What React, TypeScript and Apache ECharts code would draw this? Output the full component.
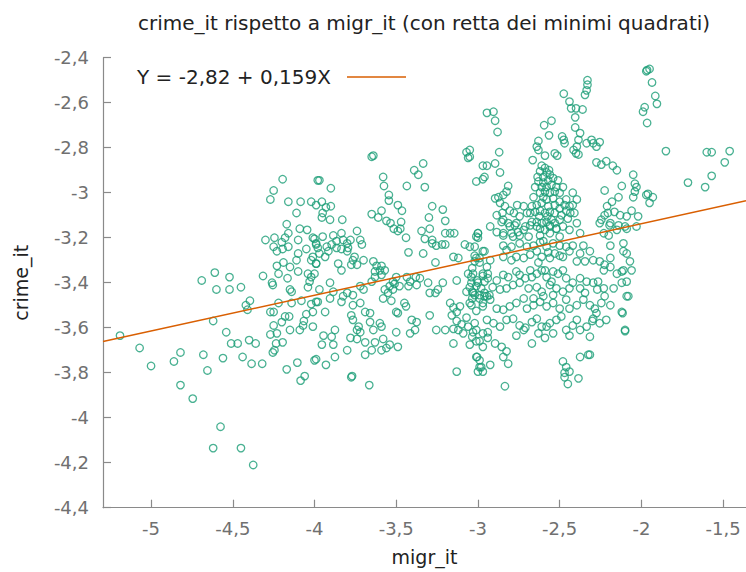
import React, { useEffect, useRef } from "react";
import * as echarts from "echarts";

// Least squares line shown in the key
const INTERCEPT = -2.82;
const SLOPE = 0.159;

// Axis extents
const X_MIN = -5.294;
const X_MAX = -1.36;
const Y_MIN = -4.4;
const Y_MAX = -2.4;
const Y_STEP = 0.2;

const TITLE = "crime_it rispetto a migr_it (con retta dei minimi quadrati)";
const X_NAME = "migr_it";
const Y_NAME = "crime_it";

// [migr_it, crime_it] observations, grouped by area of the plot
const farWestPoints: number[][] = [
  [-5.19, -3.635], [-5.07, -3.69], [-5.0, -3.77], [-4.86, -3.75], [-4.82, -3.71], [-4.82, -3.855],
  [-4.745, -3.915], [-4.68, -3.72], [-4.655, -3.79], [-4.62, -3.57], [-4.69, -3.39], [-4.61, -3.355],
  [-4.52, -3.375], [-4.6, -3.43], [-4.52, -3.43], [-4.45, -3.42], [-4.54, -3.62], [-4.51, -3.67],
  [-4.47, -3.67], [-4.56, -3.735], [-4.44, -3.73], [-4.4, -3.655], [-4.36, -3.67], [-4.385, -3.76],
  [-4.32, -3.76], [-4.42, -3.5], [-4.395, -3.48], [-4.41, -3.52], [-4.575, -4.04], [-4.62, -4.135],
  [-4.45, -4.135], [-4.375, -4.21],
];

const westPoints: number[][] = [
  [-4.315, -3.37], [-4.26, -3.4], [-4.255, -3.41], [-4.3, -3.21], [-4.245, -3.2], [-4.25, -3.24],
  [-4.23, -3.26], [-4.2, -3.22], [-4.195, -3.25], [-4.18, -3.2], [-4.16, -3.18], [-4.16, -3.24],
  [-4.17, -3.14], [-4.195, -2.94], [-4.25, -2.99], [-4.27, -3.03], [-4.16, -3.04], [-4.11, -3.09],
  [-4.085, -3.04], [-4.02, -3.04], [-3.99, -3.055], [-3.98, -2.945], [-4.09, -3.16], [-4.045, -3.165],
  [-4.1, -3.21], [-4.05, -3.25], [-4.0, -3.205], [-3.99, -3.23], [-4.1, -3.27], [-4.11, -3.3],
  [-4.02, -3.3], [-4.23, -3.325], [-4.19, -3.31], [-4.15, -3.33], [-4.22, -3.36], [-4.165, -3.38],
  [-4.1, -3.35], [-4.04, -3.36], [-4.0, -3.36], [-3.99, -3.315], [-4.15, -3.43], [-4.14, -3.44],
  [-4.04, -3.42], [-4.22, -3.49], [-4.14, -3.49], [-4.08, -3.48], [-4.02, -3.495], [-3.98, -3.485],
  [-4.27, -3.53], [-4.25, -3.53], [-4.2, -3.575], [-4.18, -3.55], [-4.155, -3.55], [-4.25, -3.59],
  [-4.27, -3.63], [-4.23, -3.625], [-4.235, -3.67], [-4.195, -3.665], [-4.245, -3.7], [-4.255, -3.71],
  [-4.15, -3.61], [-4.09, -3.61], [-4.07, -3.59], [-4.05, -3.54], [-4.065, -3.57], [-4.01, -3.595],
  [-4.17, -3.785], [-4.105, -3.755], [-4.06, -3.815], [-4.085, -3.835], [-3.99, -3.74],
];

const midWestPoints: number[][] = [
  [-3.97, -2.945], [-3.9, -2.98], [-3.955, -3.04], [-3.93, -3.065], [-3.9, -3.06], [-3.95, -3.09],
  [-3.955, -3.11], [-3.905, -3.12], [-3.83, -3.12], [-3.65, -2.84], [-3.64, -2.835], [-3.58, -2.93],
  [-3.575, -2.97], [-3.545, -3.01], [-3.545, -3.035], [-3.65, -3.095], [-3.61, -3.11], [-3.59, -3.08],
  [-3.56, -3.125], [-3.535, -3.135], [-3.515, -3.16], [-3.49, -3.055], [-3.465, -3.08], [-3.47, -3.13],
  [-3.475, -3.16], [-3.44, -3.2], [-3.49, -3.17],
  [-4.01, -3.2], [-3.99, -3.225], [-3.95, -3.195], [-3.885, -3.19], [-3.865, -3.215], [-3.835, -3.18],
  [-3.825, -3.21], [-3.8, -3.225], [-3.78, -3.21], [-3.74, -3.17], [-3.72, -3.21], [-3.71, -3.23],
  [-3.98, -3.245], [-3.925, -3.24], [-3.895, -3.23], [-3.865, -3.245], [-3.835, -3.25], [-3.8, -3.26],
  [-3.795, -3.245], [-3.97, -3.27], [-3.935, -3.285], [-3.915, -3.26], [-4.01, -3.285], [-3.99, -3.315],
  [-3.755, -3.285], [-3.765, -3.3], [-3.775, -3.32], [-3.74, -3.32], [-3.7, -3.3], [-3.64, -3.305],
  [-3.62, -3.325], [-3.59, -3.325], [-3.57, -3.345], [-3.63, -3.35], [-3.59, -3.365], [-3.855, -3.315],
  [-3.835, -3.345], [-3.5, -3.375], [-3.52, -3.395], [-3.435, -3.375], [-3.415, -3.395], [-3.38, -3.375],
  [-3.355, -3.38], [-3.54, -3.415], [-3.57, -3.43], [-3.51, -3.405], [-3.52, -3.43], [-3.48, -3.415],
  [-3.425, -3.415], [-3.375, -3.41], [-3.55, -3.445], [-3.58, -3.47], [-3.53, -3.48], [-3.65, -3.395],
  [-3.63, -3.375], [-3.6, -3.345], [-4.03, -3.395], [-4.02, -3.375], [-3.905, -3.4], [-3.97, -3.43],
  [-3.885, -3.44], [-3.825, -3.46], [-3.8, -3.445], [-3.765, -3.455], [-3.7, -3.43], [-3.72, -3.415],
  [-3.99, -3.485], [-3.905, -3.47], [-3.835, -3.485], [-3.765, -3.5], [-3.72, -3.49], [-4.01, -3.53],
  [-3.935, -3.53], [-3.775, -3.545], [-3.765, -3.565], [-3.69, -3.53], [-3.66, -3.535], [-3.74, -3.61],
  [-3.72, -3.62], [-3.73, -3.595], [-3.6, -3.58], [-3.59, -3.595], [-3.66, -3.575], [-3.64, -3.61],
  [-3.5, -3.53], [-3.49, -3.535], [-3.45, -3.49], [-3.44, -3.505], [-3.405, -3.565], [-3.375, -3.575],
  [-3.385, -3.61], [-3.415, -3.625], [-3.5, -3.62], [-3.945, -3.635], [-3.895, -3.64], [-3.885, -3.675],
  [-3.955, -3.675], [-3.875, -3.61], [-3.78, -3.645], [-3.74, -3.65], [-3.69, -3.665], [-3.63, -3.665],
  [-3.58, -3.65], [-3.54, -3.675], [-3.49, -3.685], [-3.56, -3.69], [-4.0, -3.745], [-3.93, -3.765],
  [-3.875, -3.73], [-3.8, -3.7], [-3.69, -3.72], [-3.65, -3.7], [-3.775, -3.82], [-3.59, -3.7],
  [-3.77, -3.815], [-3.665, -3.855],
];

const centrePoints: number[][] = [
  [-3.335, -2.87], [-3.39, -2.9], [-3.365, -2.92], [-3.325, -2.975], [-3.435, -2.97], [-3.07, -2.82],
  [-3.06, -2.845], [-3.01, -2.95], [-3.28, -3.06], [-3.215, -3.075], [-3.3, -3.11], [-3.2, -3.125],
  [-3.345, -3.17], [-3.325, -3.205], [-3.295, -3.16], [-3.28, -3.225], [-3.255, -3.235], [-3.28, -3.21],
  [-3.22, -3.23], [-3.2, -3.23], [-3.2, -3.18], [-3.17, -3.18], [-3.145, -3.18], [-3.0, -3.18],
  [-3.0, -3.2], [-3.08, -3.23], [-3.05, -3.24], [-3.15, -3.285], [-3.12, -3.29], [-2.97, -3.26],
  [-3.02, -3.28], [-3.01, -3.29], [-3.425, -3.265], [-3.335, -3.27], [-3.26, -3.31], [-3.305, -3.4],
  [-3.295, -3.445], [-3.26, -3.445], [-3.245, -3.43], [-3.215, -3.4], [-3.13, -3.39], [-3.06, -3.36],
  [-3.03, -3.36], [-3.04, -3.4], [-3.01, -3.415], [-2.97, -3.37], [-2.945, -3.33], [-2.99, -3.31],
  [-2.94, -3.36], [-3.07, -3.44], [-3.03, -3.445], [-3.02, -3.455], [-2.99, -3.455], [-2.96, -3.46],
  [-2.93, -3.455], [-3.17, -3.49], [-3.15, -3.51], [-3.16, -3.545], [-3.13, -3.53], [-3.11, -3.505],
  [-3.13, -3.57], [-3.1, -3.585], [-3.07, -3.555], [-3.04, -3.5], [-3.01, -3.525], [-2.97, -3.49],
  [-3.2, -3.61], [-3.255, -3.61], [-3.15, -3.605], [-3.12, -3.61], [-3.09, -3.625], [-3.06, -3.595],
  [-3.03, -3.62], [-3.01, -3.61], [-2.97, -3.625], [-2.94, -3.62], [-3.295, -3.545], [-3.15, -3.67],
  [-3.05, -3.675], [-3.01, -3.66], [-2.97, -3.685], [-3.01, -3.73], [-2.99, -3.745], [-2.98, -3.775],
  [-3.13, -3.795], [-3.0, -3.795],
];

const upperEastPoints: number[][] = [
  [-1.97, -2.46], [-1.965, -2.455], [-1.95, -2.45], [-1.935, -2.51], [-1.915, -2.57], [-1.905, -2.605],
  [-1.98, -2.62], [-1.99, -2.64], [-1.965, -2.69], [-2.33, -2.5], [-2.33, -2.52], [-2.335, -2.545],
  [-2.345, -2.565], [-2.475, -2.56], [-2.44, -2.595], [-2.43, -2.625], [-2.4, -2.625], [-2.36, -2.63],
  [-2.405, -2.665], [-2.405, -2.71], [-2.375, -2.735], [-2.385, -2.765], [-2.395, -2.795], [-2.4, -2.825],
  [-2.335, -2.78], [-2.305, -2.765], [-2.275, -2.795], [-2.255, -2.775], [-2.295, -2.78], [-2.485, -2.75],
  [-2.475, -2.765], [-2.595, -2.7], [-2.55, -2.68], [-2.565, -2.745], [-2.63, -2.77], [-2.64, -2.795],
  [-2.63, -2.81], [-2.53, -2.825], [-2.515, -2.835], [-2.59, -2.835], [-2.665, -2.855], [-2.945, -2.645],
  [-2.905, -2.64], [-2.895, -2.68], [-2.88, -2.73], [-2.87, -2.82], [-3.05, -2.84], [-2.895, -2.87],
  [-2.865, -2.91], [-2.96, -2.93], [-2.97, -2.88], [-2.945, -2.88], [-2.97, -2.94], [-2.47, -2.78],
  [-2.415, -2.81], [-2.385, -2.83], [-3.05, -2.81], [-1.85, -2.815], [-1.6, -2.82], [-1.57, -2.82],
  [-1.46, -2.815], [-1.49, -2.865], [-1.57, -2.925], [-1.61, -2.975], [-1.715, -2.955], [-1.96, -3.005],
  [-1.93, -3.02], [-1.95, -3.045],
];

const denseUpperPoints: number[][] = [
  [-2.61, -2.88], [-2.59, -2.89], [-2.62, -2.905], [-2.58, -2.91], [-2.6, -2.93], [-2.56, -2.92],
  [-2.57, -2.945], [-2.54, -2.935], [-2.63, -2.95], [-2.61, -2.975], [-2.58, -2.975], [-2.55, -2.965],
  [-2.52, -2.975], [-2.53, -2.995], [-2.56, -3.0], [-2.59, -2.995], [-2.62, -3.0], [-2.5, -3.0],
  [-2.48, -2.975], [-2.51, -2.945], [-2.54, -3.025], [-2.58, -3.03], [-2.61, -3.045], [-2.64, -3.055],
  [-2.67, -3.06], [-2.65, -3.085], [-2.62, -3.08], [-2.59, -3.09], [-2.56, -3.085], [-2.53, -3.09],
  [-2.5, -3.07], [-2.47, -3.055], [-2.46, -3.08], [-2.44, -3.06], [-2.42, -3.055], [-2.41, -3.09],
  [-2.395, -3.03], [-2.42, -3.0], [-2.46, -3.03], [-2.5, -3.04], [-2.55, -3.12], [-2.58, -3.13],
  [-2.61, -3.135], [-2.64, -3.13], [-2.62, -3.16], [-2.59, -3.165], [-2.56, -3.15], [-2.53, -3.135],
  [-2.5, -3.12], [-2.52, -3.16], [-2.48, -3.15], [-2.45, -3.115], [-2.67, -3.13], [-2.68, -3.09],
  [-2.66, -3.02], [-2.65, -2.975], [-2.815, -2.97], [-2.825, -2.995], [-2.845, -3.01], [-2.875, -3.02],
  [-2.895, -3.025], [-2.865, -3.045], [-2.835, -3.06], [-2.805, -3.08], [-2.78, -3.09], [-2.85, -3.09],
  [-2.885, -3.1], [-2.845, -3.12], [-2.815, -3.135], [-2.775, -3.145], [-2.745, -3.105], [-2.71, -3.15],
  [-2.755, -3.175], [-2.795, -3.18], [-2.845, -3.18], [-2.885, -3.175], [-2.925, -3.15], [-2.7, -3.09],
  [-2.72, -3.06], [-2.76, -3.055], [-2.275, -2.865], [-2.245, -2.875], [-2.215, -2.86], [-2.175, -2.88],
  [-2.15, -2.9], [-2.05, -2.92], [-2.12, -2.97], [-2.225, -2.99], [-2.04, -2.96], [-2.03, -2.975],
  [-2.04, -2.995], [-2.05, -3.02], [-1.97, -3.01], [-2.14, -3.02], [-2.18, -3.04], [-2.21, -3.06],
  [-2.205, -3.09], [-2.165, -3.085], [-2.13, -3.1], [-2.09, -3.105], [-2.06, -3.08], [-2.02, -3.105],
  [-2.245, -3.12], [-2.255, -3.135], [-2.195, -3.145], [-2.14, -3.145], [-2.1, -3.15], [-2.03, -3.15],
  [-2.09, -3.16], [-2.225, -3.1],
  [-2.6, -2.955], [-2.565, -2.9], [-2.6, -3.02], [-2.57, -3.06], [-2.625, -3.105], [-2.575, -3.105],
  [-2.53, -3.055], [-2.49, -3.1], [-2.435, -3.09], [-2.635, -2.93],
];

const denseLowerPoints: number[][] = [
  [-2.855, -3.13], [-2.805, -3.15], [-2.765, -3.135], [-2.72, -3.165], [-2.68, -3.145], [-2.64, -3.15],
  [-2.56, -3.145], [-2.52, -3.16], [-2.44, -3.165], [-2.395, -3.135], [-3.0, -3.18], [-3.01, -3.195],
  [-2.845, -3.19], [-2.785, -3.195], [-2.745, -3.19], [-2.69, -3.195], [-2.62, -3.19], [-2.56, -3.18],
  [-2.5, -3.195], [-2.375, -3.18], [-2.19, -3.135], [-2.15, -3.165], [-2.23, -3.18], [-2.2, -3.19],
  [-3.02, -3.24], [-2.96, -3.26], [-2.845, -3.235], [-2.825, -3.255], [-2.795, -3.24], [-2.745, -3.225],
  [-2.7, -3.24], [-2.66, -3.235], [-2.62, -3.22], [-2.58, -3.24], [-2.54, -3.225], [-2.5, -3.235],
  [-2.46, -3.24], [-2.42, -3.235], [-2.355, -3.235], [-2.375, -3.27], [-2.315, -3.26], [-3.02, -3.305],
  [-2.99, -3.29], [-2.925, -3.3], [-2.845, -3.285], [-2.795, -3.3], [-2.765, -3.285], [-2.72, -3.29],
  [-2.68, -3.275], [-2.64, -3.26], [-2.61, -3.285], [-2.56, -3.29], [-2.53, -3.27], [-2.48, -3.285],
  [-2.44, -3.26], [-2.395, -3.305], [-2.345, -3.305], [-2.295, -3.3], [-2.255, -3.305], [-2.225, -3.32],
  [-2.19, -3.29], [-2.11, -3.225], [-2.09, -3.27], [-2.11, -3.26], [-2.07, -3.305], [-2.19, -3.235],
  [-3.035, -3.335], [-2.97, -3.36], [-2.94, -3.38], [-2.885, -3.39], [-2.845, -3.365], [-2.815, -3.375],
  [-2.765, -3.35], [-2.745, -3.365], [-2.71, -3.38], [-2.67, -3.375], [-2.64, -3.36], [-2.61, -3.345],
  [-2.58, -3.375], [-2.54, -3.35], [-2.51, -3.36], [-2.48, -3.345], [-2.46, -3.38], [-2.42, -3.4],
  [-2.375, -3.38], [-2.335, -3.395], [-2.295, -3.4], [-2.265, -3.395], [-2.23, -3.345], [-2.19, -3.33],
  [-2.15, -3.36], [-2.11, -3.345], [-2.09, -3.395], [-2.12, -3.4], [-2.17, -3.425], [-2.23, -3.425],
  [-2.27, -3.43], [-3.0, -3.4], [-2.91, -3.42], [-2.865, -3.43], [-2.825, -3.425], [-2.785, -3.41],
  [-2.745, -3.4], [-2.69, -3.425], [-2.64, -3.42], [-2.61, -3.44], [-2.56, -3.41], [-2.52, -3.425],
  [-2.48, -3.44], [-2.44, -3.425], [-2.375, -3.425], [-2.345, -3.445], [-2.225, -3.46], [-2.09, -3.46],
  [-3.035, -3.44], [-2.96, -3.445], [-3.05, -3.49], [-2.99, -3.47], [-2.925, -3.475], [-2.885, -3.515],
  [-2.845, -3.52], [-2.805, -3.505], [-2.765, -3.49], [-2.72, -3.47], [-2.7, -3.515], [-2.66, -3.5],
  [-2.62, -3.485], [-2.58, -3.505], [-2.54, -3.49], [-2.5, -3.515], [-2.46, -3.475], [-2.44, -3.515],
  [-2.395, -3.5], [-2.355, -3.475], [-2.315, -3.5], [-2.285, -3.515], [-2.245, -3.49], [-2.19, -3.5],
  [-2.12, -3.53], [-2.1, -3.61], [-3.02, -3.58], [-2.945, -3.565], [-2.905, -3.58], [-2.865, -3.595],
  [-2.825, -3.565], [-2.785, -3.56], [-2.745, -3.59], [-2.71, -3.6], [-2.67, -3.575], [-2.64, -3.56],
  [-2.61, -3.595], [-2.56, -3.58], [-2.52, -3.565], [-2.49, -3.55], [-2.46, -3.61], [-2.42, -3.59],
  [-2.375, -3.61], [-2.335, -3.595], [-2.295, -3.56], [-2.255, -3.58], [-2.215, -3.565], [-2.315, -3.64],
  [-2.44, -3.635], [-2.395, -3.565], [-3.035, -3.64], [-2.99, -3.66], [-2.94, -3.645], [-2.895, -3.67],
  [-2.855, -3.685], [-2.825, -3.705], [-2.845, -3.73], [-3.005, -3.73], [-2.99, -3.775], [-2.97, -3.795],
  [-2.925, -3.765], [-2.815, -3.76], [-2.835, -3.86], [-2.67, -3.67], [-2.48, -3.75], [-2.46, -3.775],
  [-2.47, -3.82], [-2.45, -3.85], [-2.385, -3.825], [-2.375, -3.73], [-2.325, -3.72], [-2.47, -3.8],
  [-2.44, -3.795], [-2.72, -3.61], [-2.765, -3.635], [-2.63, -3.625], [-2.59, -3.645], [-2.54, -3.625],
  [-2.58, -3.595], [-3.04, -3.375], [-3.005, -3.39], [-3.05, -3.42], [-2.96, -3.395], [-2.98, -3.425],
  [-3.035, -3.47], [-2.945, -3.46], [-2.97, -3.505], [-2.08, -3.46], [-2.115, -3.535], [-2.1, -3.615],
  [-2.315, -3.72], [-2.275, -3.535], [-2.3, -3.57], [-2.06, -3.345], [-2.12, -3.35],
  [-2.6, -3.215], [-2.57, -3.265], [-2.63, -3.31], [-2.59, -3.345], [-2.55, -3.395], [-2.6, -3.46],
  [-2.68, -3.345], [-2.5, -3.28], [-2.54, -3.455], [-2.66, -3.47],
];

const allPoints = [
  ...farWestPoints,
  ...westPoints,
  ...midWestPoints,
  ...centrePoints,
  ...upperEastPoints,
  ...denseUpperPoints,
  ...denseLowerPoints,
];

const FONT = "DejaVu Sans";
const comma = (v: number) => String(Math.round(v * 1000) / 1000).replace(".", ",");

export default function App() {
  const ref = useRef<HTMLDivElement>(null);

  useEffect(() => {
    if (!ref.current) return;
    const chart = echarts.init(ref.current, null, { renderer: "svg" });
    const fitLine = [
      [X_MIN, INTERCEPT + SLOPE * X_MIN],
      [X_MAX, INTERCEPT + SLOPE * X_MAX],
    ];
    const keyText = `Y = ${comma(INTERCEPT)} + ${comma(SLOPE)}X`;
    const axisGray = "#8a8a8a";
    const labelGray = "#707070";

    chart.setOption({
      animation: false,
      backgroundColor: "#ffffff",
      textStyle: { fontFamily: FONT },
      grid: { left: 103, right: 0, top: 57.7, bottom: 64.3 },
      graphic: [
        {
          type: "text",
          x: 424,
          y: 23,
          style: {
            text: TITLE,
            font: `20px '${FONT}'`,
            fill: "#222222",
            align: "center",
            verticalAlign: "middle",
          },
        },
        {
          type: "text",
          x: 137,
          y: 77,
          style: {
            text: keyText,
            font: `20px '${FONT}'`,
            fill: "#222222",
            align: "left",
            verticalAlign: "middle",
          },
        },
        {
          type: "line",
          shape: { x1: 347, y1: 77, x2: 406, y2: 77 },
          style: { stroke: "#d95f02", lineWidth: 1.5 },
        },
      ],
      xAxis: {
        type: "value",
        min: X_MIN,
        max: X_MAX,
        splitNumber: 8,
        name: X_NAME,
        nameLocation: "middle",
        nameGap: 40,
        nameTextStyle: { fontSize: 19, color: "#222222", fontFamily: FONT },
        axisLine: { show: true, onZero: false, lineStyle: { color: axisGray, width: 1.2 } },
        axisTick: { show: true, inside: true, length: 8, lineStyle: { color: axisGray, width: 1.2 } },
        splitLine: { show: false },
        axisLabel: {
          color: labelGray,
          fontSize: 18,
          fontFamily: FONT,
          margin: 12,
          showMinLabel: false,
          showMaxLabel: false,
          formatter: (v: number) =>
            Math.abs(v * 2 - Math.round(v * 2)) > 1e-6 ? "" : comma(v),
        },
      },
      yAxis: {
        type: "value",
        min: Y_MIN,
        max: Y_MAX,
        interval: Y_STEP,
        name: Y_NAME,
        nameLocation: "middle",
        nameGap: 73,
        nameTextStyle: { fontSize: 19, color: "#222222", fontFamily: FONT },
        axisLine: { show: true, onZero: false, lineStyle: { color: axisGray, width: 1.2 } },
        axisTick: { show: true, inside: true, length: 8, lineStyle: { color: axisGray, width: 1.2 } },
        splitLine: { show: false },
        axisLabel: {
          color: labelGray,
          fontSize: 18,
          fontFamily: FONT,
          margin: 14,
          formatter: (v: number) => comma(v),
        },
      },
      series: [
        {
          type: "scatter",
          data: allPoints,
          symbol: "circle",
          symbolSize: 7.5,
          silent: true,
          itemStyle: {
            color: "rgba(0,0,0,0)",
            borderColor: "#1b9e77",
            borderWidth: 1.3,
          },
          z: 2,
        },
        {
          type: "line",
          name: keyText,
          data: fitLine,
          symbol: "none",
          silent: true,
          lineStyle: { color: "#d95f02", width: 1.5 },
          z: 3,
        },
      ],
    });

    return () => chart.dispose();
  }, []);

  return (
    <div
      ref={ref}
      style={{ position: "fixed", left: 0, top: 0, width: 746, height: 572, background: "#fff" }}
    />
  );
}
